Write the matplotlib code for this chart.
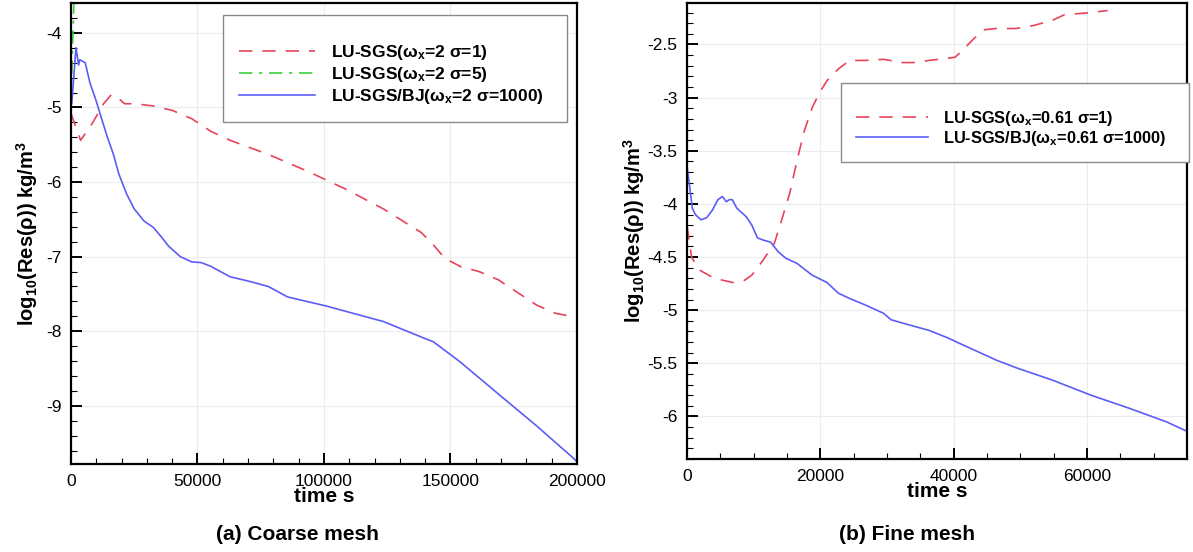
import matplotlib
matplotlib.use("Agg")
import matplotlib.pyplot as plt
from matplotlib.ticker import MultipleLocator, FormatStrFormatter

# ---- data ----
# (a) coarse mesh
coarse_red_t = [0, 3800, 8300, 12900, 15900, 18200, 21200, 25000, 32600, 40100,
                47700, 55300, 62900, 78000, 93200, 108300, 123500, 138600, 143200,
                147700, 153800, 161300, 168900, 176500, 184100, 191600, 199200]
coarse_red_v = [-5.08, -5.44, -5.22, -4.95, -4.83, -4.86, -4.95, -4.95, -4.98, -5.04,
                -5.15, -5.32, -5.44, -5.63, -5.85, -6.09, -6.36, -6.68, -6.84,
                -7.02, -7.13, -7.20, -7.31, -7.48, -7.65, -7.76, -7.81]

coarse_green_t = [0, 300, 600, 900, 1200]
coarse_green_v = [-4.95, -4.6, -4.2, -3.9, -3.5]

coarse_blue_t = [300, 1970, 3030, 3480, 4550, 5610, 7580, 9850, 12100, 14400, 16700,
                 18900, 22000, 25000, 28800, 32600, 35600, 38600, 43200, 47700, 51500,
                 55300, 62900, 70400, 78000, 85600, 100700, 123500, 140100, 143200,
                 153800, 168900, 184100, 199200, 200000]
coarse_blue_v = [-4.95, -4.2, -4.43, -4.36, -4.38, -4.4, -4.68, -4.9, -5.15, -5.4, -5.62,
                 -5.89, -6.16, -6.36, -6.52, -6.61, -6.73, -6.86, -7.0, -7.07, -7.08,
                 -7.13, -7.27, -7.33, -7.40, -7.54, -7.66, -7.87, -8.10, -8.14,
                 -8.41, -8.84, -9.27, -9.72, -9.75]

# (b) fine mesh
fine_red_t = [0, 680, 1810, 4070, 6890, 8590, 9720, 11400, 13100, 14200, 15400, 16500,
              17600, 18800, 19900, 21000, 22700, 24400, 26700, 29500, 32300, 34000,
              36300, 39100, 40200, 41400, 43100, 44700, 46400, 49300, 52100, 54900,
              56600, 60600, 63100]
fine_red_v = [-4.21, -4.5, -4.62, -4.70, -4.74, -4.72, -4.67, -4.53, -4.37, -4.15, -3.90,
              -3.59, -3.31, -3.09, -2.95, -2.84, -2.73, -2.65, -2.65, -2.64, -2.67, -2.67,
              -2.65, -2.63, -2.62, -2.55, -2.44, -2.36, -2.35, -2.35, -2.32, -2.27,
              -2.22, -2.20, -2.18]

fine_blue_t = [0, 400, 790, 1240, 2090, 2940, 3790, 4630, 5310, 5880, 6330, 6780, 7460,
               8870, 9720, 10570, 11410, 12540, 13670, 14800, 16500, 18760, 21000,
               22700, 24400, 26700, 29500, 30600, 33400, 36300, 39100, 40800, 43600,
               46400, 49300, 54900, 60600, 66200, 71900, 75000]
fine_blue_v = [-3.65, -3.84, -4.04, -4.1, -4.15, -4.13, -4.06, -3.96, -3.93, -3.98, -3.96,
               -3.96, -4.04, -4.12, -4.2, -4.32, -4.34, -4.36, -4.45, -4.51, -4.56, -4.67,
               -4.74, -4.84, -4.89, -4.95, -5.03, -5.09, -5.14, -5.19, -5.26, -5.31, -5.39,
               -5.47, -5.54, -5.66, -5.80, -5.92, -6.05, -6.14]

coarse_labels = ["LU-SGS(ω$_x$=2 σ=1)", "LU-SGS(ω$_x$=2 σ=5)", "LU-SGS/BJ(ω$_x$=2 σ=1000)"]
fine_labels = ["LU-SGS(ω$_x$=0.61 σ=1)", "LU-SGS/BJ(ω$_x$=0.61 σ=1000)"]
captions = ["(a) Coarse mesh", "(b) Fine mesh"]

RED = "#e8435a"
GREEN = "#3fcc3f"
BLUE = "#5c5cf6"

plt.rcParams["font.family"] = ["Liberation Sans", "DejaVu Sans"]
plt.rcParams["axes.unicode_minus"] = False
plt.rcParams["mathtext.fontset"] = "custom"
plt.rcParams["mathtext.rm"] = "Liberation Sans:bold"
plt.rcParams["mathtext.it"] = "Liberation Sans:bold"
plt.rcParams["mathtext.bf"] = "Liberation Sans:bold"

fig = plt.figure(figsize=(11.93, 5.52), dpi=100)
ax1 = fig.add_axes([0.0595, 0.1594, 0.4241, 0.8351])
ax2 = fig.add_axes([0.5759, 0.1685, 0.4191, 0.8260])

dash = (0, (8, 6))
dashdot = (0, (8, 4, 2, 4))

ax1.plot(coarse_red_t, coarse_red_v, color=RED, ls=dash, lw=1.2, label=coarse_labels[0])
ax1.plot(coarse_green_t, coarse_green_v, color=GREEN, ls=dashdot, lw=1.2, label=coarse_labels[1])
ax1.plot(coarse_blue_t, coarse_blue_v, color=BLUE, ls="-", lw=1.2, label=coarse_labels[2])
ax1.set_xlim(0, 200000)
ax1.set_ylim(-9.78, -3.6)
ax1.xaxis.set_major_locator(MultipleLocator(50000))
ax1.xaxis.set_minor_locator(MultipleLocator(10000))
ax1.yaxis.set_major_locator(MultipleLocator(1))
ax1.yaxis.set_minor_locator(MultipleLocator(0.2))
ax1.xaxis.set_major_formatter(FormatStrFormatter("%d"))
ax1.yaxis.set_major_formatter(FormatStrFormatter("%g"))

ax2.plot(fine_red_t, fine_red_v, color=RED, ls=dash, lw=1.2, label=fine_labels[0])
ax2.plot(fine_blue_t, fine_blue_v, color=BLUE, ls="-", lw=1.2, label=fine_labels[1])
ax2.set_xlim(0, 75000)
ax2.set_ylim(-6.4, -2.11)
ax2.xaxis.set_major_locator(MultipleLocator(20000))
ax2.xaxis.set_minor_locator(MultipleLocator(5000))
ax2.yaxis.set_major_locator(MultipleLocator(0.5))
ax2.yaxis.set_minor_locator(MultipleLocator(0.1))
ax2.xaxis.set_major_formatter(FormatStrFormatter("%d"))
ax2.yaxis.set_major_formatter(FormatStrFormatter("%g"))

for ax, ypad in ((ax1, 4), (ax2, 0)):
    for sp in ax.spines.values():
        sp.set_linewidth(1.6)
    ax.tick_params(which="both", direction="in", top=False, right=False, width=1.4)
    ax.tick_params(which="major", length=8, labelsize=12.5, pad=7)
    ax.tick_params(which="minor", length=4, width=0.8)
    ax.grid(True, which="major", color="#ececec", lw=0.8)
    ax.set_axisbelow(True)
    ax.set_xlabel("time s", fontsize=15, fontweight="bold", labelpad=-1)
    ax.set_ylabel("log$_{10}$(Res(ρ)) kg/m$^3$", fontsize=14.5, fontweight="bold",
                  labelpad=ypad)

leg_kw = dict(loc="upper left", mode="expand", frameon=True, fancybox=False,
              edgecolor="#8a8a8a", framealpha=1, borderaxespad=0, borderpad=0.9,
              handlelength=4.4, handletextpad=0.9,
              title=" ", title_fontsize=7)
l1 = ax1.legend(bbox_to_anchor=(0.1869, 0.4, 0.2884, 0.5728),
                bbox_transform=fig.transFigure, labelspacing=0.16,
                prop={"weight": "bold", "size": 12.5}, **leg_kw)
l2 = ax2.legend(bbox_to_anchor=(0.7049, 0.3, 0.2917, 0.5496),
                bbox_transform=fig.transFigure, labelspacing=0.06,
                prop={"weight": "bold", "size": 11.8}, **leg_kw)
for lg in (l1, l2):
    lg.get_frame().set_linewidth(1.0)

fig.text(0.249, 0.031, captions[0], ha="center", va="center", fontsize=15, fontweight="bold")
fig.text(0.760, 0.031, captions[1], ha="center", va="center", fontsize=15, fontweight="bold")

fig.savefig("out.png", dpi=100)
